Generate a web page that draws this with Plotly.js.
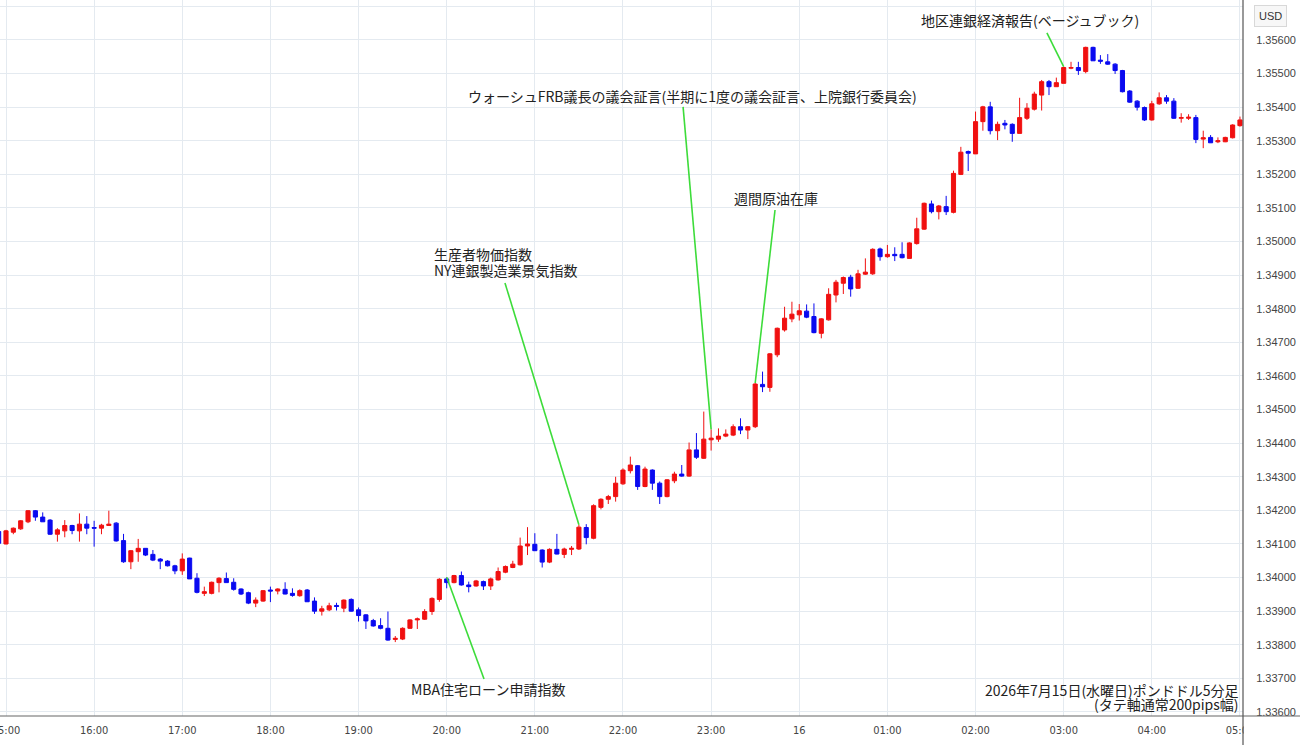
<!DOCTYPE html>
<html>
<head>
<meta charset="utf-8">
<script src="https://cdn.plot.ly/plotly-3.0.1.min.js"></script>
<style>html,body{margin:0;padding:0;background:#fff;}#chart{width:1300px;height:745px;}</style>
</head>
<body>
<div id="chart"></div>
<script>
// GBP/USD 5-minute candles, 2026-07-15 14:55 .. 2026-07-16 05:00
const START_DAY = 15;          // July 15, 2026
const START_MIN = 14 * 60 + 55; // first candle 14:55
const STEP_MIN = 5;

const openP = [
1.34137,1.34100,1.34135,1.34145,1.34166,1.34199,1.34180,1.34171,1.34129,1.34139,
1.34155,1.34139,1.34159,1.34149,1.34147,1.34155,1.34162,1.34110,1.34047,1.34077,
1.34087,1.34069,1.34055,1.34049,1.34035,1.34020,1.34058,1.33998,1.33953,1.33953,
1.33985,1.33997,1.33986,1.33966,1.33955,1.33924,1.33930,1.33963,1.33960,1.33965,
1.33953,1.33946,1.33963,1.33930,1.33900,1.33904,1.33917,1.33909,1.33935,1.33904,
1.33889,1.33872,1.33857,1.33849,1.33816,1.33817,1.33849,1.33874,1.33876,1.33899,
1.33935,1.33996,1.33985,1.34006,1.33978,1.33975,1.33988,1.33975,1.33993,1.34016,
1.34030,1.34038,1.34094,1.34099,1.34082,1.34046,1.34084,1.34069,1.34084,1.34085,
1.34149,1.34117,1.34209,1.34233,1.34241,1.34279,1.34318,1.34333,1.34271,1.34320,
1.34281,1.34241,1.34288,1.34308,1.34302,1.34380,1.34355,1.34410,1.34412,1.34421,
1.34424,1.34449,1.34439,1.34449,1.34575,1.34566,1.34663,1.34737,1.34770,1.34782,
1.34793,1.34777,1.34727,1.34767,1.34841,1.34876,1.34894,1.34861,1.34903,1.34904,
1.34978,1.34955,1.34962,1.34962,1.34950,1.34994,1.35037,1.35112,1.35089,1.35104,
1.35087,1.35200,1.35268,1.35261,1.35357,1.35401,1.35330,1.35352,1.35349,1.35322,
1.35367,1.35394,1.35436,1.35476,1.35461,1.35471,1.35516,1.35518,1.35506,1.35578,
1.35540,1.35535,1.35528,1.35509,1.35448,1.35418,1.35399,1.35362,1.35410,1.35428,
1.35418,1.35367,1.35367,1.35369,1.35305,1.35310,1.35297,1.35297,1.35309,1.35345];

const highP = [
1.34140,1.34142,1.34149,1.34171,1.34201,1.34201,1.34194,1.34174,1.34147,1.34171,
1.34157,1.34191,1.34183,1.34169,1.34160,1.34199,1.34165,1.34130,1.34082,1.34115,
1.34087,1.34082,1.34058,1.34052,1.34038,1.34072,1.34059,1.34013,1.33973,1.33988,
1.34001,1.34015,1.33998,1.33968,1.33958,1.33941,1.33963,1.33973,1.33968,1.33986,
1.33968,1.33965,1.33966,1.33941,1.33916,1.33925,1.33925,1.33935,1.33938,1.33911,
1.33891,1.33877,1.33879,1.33899,1.33826,1.33852,1.33876,1.33881,1.33906,1.33941,
1.33998,1.34001,1.34008,1.34018,1.33988,1.33993,1.33991,1.34000,1.34030,1.34036,
1.34050,1.34119,1.34150,1.34132,1.34084,1.34087,1.34130,1.34089,1.34094,1.34157,
1.34159,1.34218,1.34236,1.34246,1.34300,1.34325,1.34360,1.34335,1.34330,1.34322,
1.34286,1.34293,1.34315,1.34335,1.34402,1.34430,1.34494,1.34441,1.34444,1.34441,
1.34456,1.34474,1.34451,1.34579,1.34613,1.34668,1.34744,1.34806,1.34821,1.34814,
1.34813,1.34816,1.34772,1.34861,1.34886,1.34896,1.34901,1.34916,1.34950,1.34980,
1.34982,1.34990,1.34983,1.34998,1.34998,1.35071,1.35116,1.35122,1.35109,1.35136,
1.35211,1.35282,1.35271,1.35387,1.35404,1.35416,1.35357,1.35362,1.35352,1.35428,
1.35412,1.35446,1.35481,1.35481,1.35488,1.35521,1.35535,1.35535,1.35580,1.35580,
1.35555,1.35558,1.35531,1.35511,1.35451,1.35421,1.35402,1.35419,1.35444,1.35436,
1.35427,1.35382,1.35379,1.35377,1.35330,1.35317,1.35310,1.35312,1.35349,1.35372];

const lowP = [
1.34100,1.34099,1.34129,1.34142,1.34162,1.34169,1.34166,1.34127,1.34107,1.34120,
1.34129,1.34107,1.34129,1.34092,1.34129,1.34155,1.34107,1.34044,1.34025,1.34047,
1.34064,1.34049,1.34025,1.34033,1.34010,1.34008,1.33996,1.33953,1.33945,1.33950,
1.33956,1.33985,1.33961,1.33948,1.33921,1.33912,1.33928,1.33927,1.33950,1.33950,
1.33943,1.33943,1.33928,1.33892,1.33887,1.33900,1.33902,1.33897,1.33899,1.33869,
1.33847,1.33854,1.33846,1.33812,1.33808,1.33814,1.33847,1.33847,1.33874,1.33889,
1.33928,1.33968,1.33983,1.33976,1.33956,1.33973,1.33963,1.33963,1.33991,1.34013,
1.34028,1.34036,1.34067,1.34079,1.34030,1.34043,1.34069,1.34058,1.34067,1.34082,
1.34099,1.34114,1.34203,1.34219,1.34226,1.34276,1.34310,1.34261,1.34269,1.34261,
1.34219,1.34239,1.34281,1.34300,1.34300,1.34353,1.34353,1.34378,1.34404,1.34418,
1.34421,1.34427,1.34412,1.34445,1.34552,1.34553,1.34656,1.34732,1.34760,1.34765,
1.34772,1.34727,1.34712,1.34765,1.34819,1.34844,1.34836,1.34859,1.34901,1.34901,
1.34943,1.34952,1.34942,1.34950,1.34950,1.34991,1.35035,1.35084,1.35066,1.35079,
1.35084,1.35198,1.35210,1.35261,1.35330,1.35319,1.35302,1.35334,1.35297,1.35322,
1.35362,1.35390,1.35390,1.35436,1.35461,1.35471,1.35513,1.35496,1.35501,1.35538,
1.35529,1.35526,1.35499,1.35444,1.35413,1.35390,1.35359,1.35360,1.35407,1.35410,
1.35365,1.35354,1.35362,1.35293,1.35278,1.35294,1.35293,1.35296,1.35307,1.35342];

const closeP = [
1.34102,1.34139,1.34147,1.34169,1.34199,1.34180,1.34166,1.34129,1.34142,1.34155,
1.34140,1.34159,1.34147,1.34147,1.34156,1.34159,1.34109,1.34047,1.34080,1.34087,
1.34067,1.34052,1.34049,1.34035,1.34020,1.34055,1.33996,1.33956,1.33958,1.33986,
1.33998,1.33985,1.33965,1.33951,1.33924,1.33933,1.33961,1.33960,1.33966,1.33951,
1.33947,1.33961,1.33928,1.33900,1.33907,1.33916,1.33914,1.33933,1.33900,1.33887,
1.33871,1.33856,1.33849,1.33814,1.33819,1.33849,1.33874,1.33877,1.33899,1.33938,
1.33995,1.33985,1.34006,1.33978,1.33973,1.33990,1.33975,1.33996,1.34018,1.34033,
1.34040,1.34094,1.34100,1.34080,1.34046,1.34084,1.34070,1.34085,1.34087,1.34150,
1.34119,1.34214,1.34233,1.34241,1.34281,1.34320,1.34335,1.34271,1.34323,1.34281,
1.34241,1.34291,1.34308,1.34302,1.34380,1.34358,1.34412,1.34415,1.34421,1.34427,
1.34449,1.34439,1.34449,1.34576,1.34568,1.34666,1.34742,1.34772,1.34784,1.34794,
1.34775,1.34729,1.34770,1.34843,1.34879,1.34893,1.34859,1.34904,1.34909,1.34977,
1.34955,1.34962,1.34958,1.34952,1.34996,1.35038,1.35114,1.35089,1.35106,1.35089,
1.35203,1.35266,1.35263,1.35357,1.35401,1.35330,1.35349,1.35347,1.35322,1.35369,
1.35397,1.35439,1.35476,1.35461,1.35473,1.35518,1.35518,1.35509,1.35578,1.35538,
1.35537,1.35528,1.35509,1.35446,1.35415,1.35400,1.35362,1.35410,1.35428,1.35418,
1.35367,1.35369,1.35370,1.35304,1.35309,1.35294,1.35300,1.35310,1.35347,1.35362];

// axis ticks
const xTickTimes = ['2026-07-15 15:00','2026-07-15 16:00','2026-07-15 17:00','2026-07-15 18:00',
  '2026-07-15 19:00','2026-07-15 20:00','2026-07-15 21:00','2026-07-15 22:00','2026-07-15 23:00',
  '2026-07-16 00:00','2026-07-16 01:00','2026-07-16 02:00','2026-07-16 03:00','2026-07-16 04:00','2026-07-16 05:00'];
const xTickLabels = ['15:00','16:00','17:00','18:00','19:00','20:00','21:00','22:00','23:00',
  '16','01:00','02:00','03:00','04:00','05:00'];
const yTickVals = [1.336,1.337,1.338,1.339,1.340,1.341,1.342,1.343,1.344,1.345,1.346,1.347,
  1.348,1.349,1.350,1.351,1.352,1.353,1.354,1.355,1.356,1.357];
const yTickLabels = ['1.33600','1.33700','1.33800','1.33900','1.34000','1.34100','1.34200','1.34300',
  '1.34400','1.34500','1.34600','1.34700','1.34800','1.34900','1.35000','1.35100','1.35200',
  '1.35300','1.35400','1.35500','1.35600',''];

// economic events: candle index (0 = first candle), label
const eventIdx = [61, 79, 97, 103, 145];
const eventText = ['MBA住宅ローン申請指数', '生産者物価指数', 'NY連銀製造業景気指数',
  'ウォーシュFRB議長の議会証言(半期に1度の議会証言、上院銀行委員会)', '週間原油在庫',
  '地区連銀経済報告(ベージュブック)'];
const noteText = ['2026年7月15日(水曜日)ポンドドル5分足', '(タテ軸通常200pips幅)'];

function pad(n){return (n<10?'0':'')+n;}
const times = openP.map((_, i) => {
  const m = START_MIN + i * STEP_MIN;
  const d = START_DAY + Math.floor(m / 1440);
  const mm = m % 1440;
  return '2026-07-' + pad(d) + ' ' + pad(Math.floor(mm / 60)) + ':' + pad(mm % 60);
});

const trace = {
  type: 'candlestick', x: times, open: openP, high: highP, low: lowP, close: closeP,
  increasing: {line: {color: '#f01010', width: 1}, fillcolor: '#f01010'},
  decreasing: {line: {color: '#0a0af0', width: 1}, fillcolor: '#0a0af0'},
  whiskerwidth: 0, hoverinfo: 'skip', showlegend: false
};

const GREEN = '#3ddc3a';
const annFont = {family: '"Noto Sans CJK JP", sans-serif', size: 14, color: '#222'};

// label layout (tail points and text positions)
const tails = [
  ['2026-07-15 20:25:25', 1.33698],
  ['2026-07-15 20:39:40', 1.34877],
  ['2026-07-15 22:40:55', 1.35401],
  ['2026-07-15 23:43:30', 1.35094],
  ['2026-07-16 02:48:35', 1.35621]
];
const shapes = eventIdx.map((idx, k) => ({
  type: 'line', xref: 'x', yref: 'y', x0: tails[k][0], y0: tails[k][1],
  x1: times[idx], y1: highP[idx], line: {color: GREEN, width: 1.6}, layer: 'above'
}));
// frame lines
shapes.push({type:'rect', xref:'paper', yref:'paper', x0:1.0006, x1:1.06, y0:-0.05, y1:-0.002,
  fillcolor:'#fff', line:{width:0}, layer:'above'});
shapes.push({type:'line', xref:'paper', yref:'paper', x0:0, x1:1.05, y0:0, y1:0,
  line:{color:'#666', width:1.2}, layer:'above'});
shapes.push({type:'line', xref:'paper', yref:'paper', x0:1, x1:1, y0:-0.05, y1:1,
  line:{color:'#555', width:1.2}, layer:'above'});

const annotations = [
  {x:'2026-07-15 20:27:50', y:1.33668, xref:'x', yref:'y', text:eventText[0], showarrow:false, font:annFont},
  {x:'2026-07-15 19:50:00', y:1.34962, xref:'x', yref:'y', text:eventText[1], showarrow:false, xanchor:'left', font:annFont},
  {x:'2026-07-15 19:50:00', y:1.34916, xref:'x', yref:'y', text:eventText[2], showarrow:false, xanchor:'left', font:annFont},
  {x:'2026-07-15 22:47:20', y:1.35433, xref:'x', yref:'y', text:eventText[3], showarrow:false, font:annFont},
  {x:'2026-07-15 23:44:10', y:1.35130, xref:'x', yref:'y', text:eventText[4], showarrow:false, font:annFont},
  {x:'2026-07-16 02:37:00', y:1.35660, xref:'x', yref:'y', text:eventText[5], showarrow:false, font:annFont},
  {x:0.9985, y:0.0363, xref:'paper', yref:'paper', xanchor:'right', yanchor:'middle',
    text:noteText[0], showarrow:false, font:annFont},
  {x:0.9985, y:0.0168, xref:'paper', yref:'paper', xanchor:'right', yanchor:'middle',
    text:noteText[1], showarrow:false, font:annFont},
  {x:1.0225, y:0.978, xref:'paper', yref:'paper', xanchor:'center', yanchor:'middle', text:'USD', showarrow:false,
    font:{family:'"Liberation Sans", Arial, sans-serif', size:11, color:'#333'},
    bordercolor:'#d8d8d8', borderwidth:1, borderpad:4, bgcolor:'#f7f7f7'}
];

const layout = {
  width: 1300, height: 745,
  margin: {l: 0, r: 57, t: 0, b: 29},
  paper_bgcolor: '#fff', plot_bgcolor: '#fff',
  boxgap: 0.2,
  showlegend: false,
  xaxis: {
    type: 'date', range: ['2026-07-15 14:55:55', '2026-07-16 05:02:04'],
    rangeslider: {visible: false},
    tickvals: xTickTimes, ticktext: xTickLabels, tickmode: 'array',
    ticklabeloverflow: 'allow',
    showgrid: true, gridcolor: '#e4eaf0', gridwidth: 1,
    ticks: 'outside', ticklen: 4, tickcolor: 'rgba(0,0,0,0)',
    tickfont: {family: '"Liberation Sans Narrow", "DejaVu Sans Condensed", sans-serif', size: 11, color: '#444'},
    showline: false, zeroline: false, fixedrange: true
  },
  yaxis: {
    side: 'right', range: [1.33588, 1.35719],
    tickvals: yTickVals, ticktext: yTickLabels, tickmode: 'array',
    showgrid: true, gridcolor: '#e4eaf0', gridwidth: 1,
    ticks: 'outside', ticklen: 10, tickcolor: 'rgba(0,0,0,0)',
    tickfont: {family: '"Liberation Sans", Arial, sans-serif', size: 11, color: '#444'},
    showline: false, zeroline: false, fixedrange: true
  },
  shapes: shapes,
  annotations: annotations
};

Plotly.newPlot('chart', [trace], layout, {displayModeBar: false, staticPlot: true});
</script>
</body>
</html>
